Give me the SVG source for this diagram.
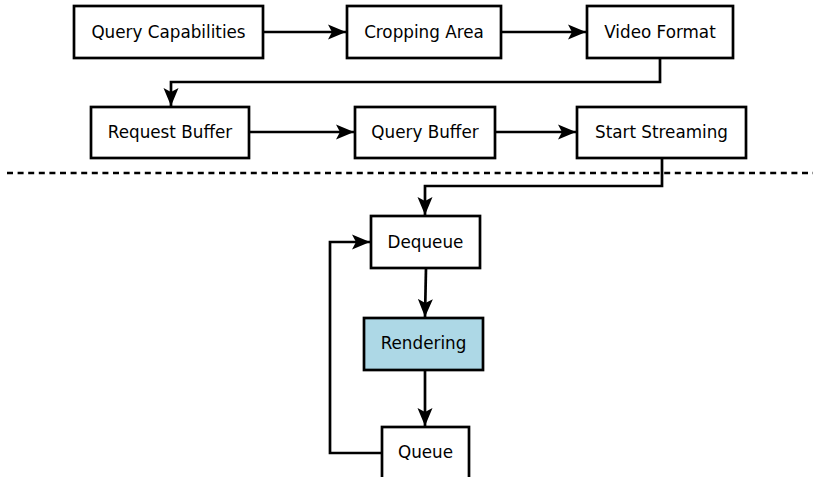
<svg xmlns="http://www.w3.org/2000/svg" width="815" height="477" viewBox="0 0 815 477">
<style>
.box{fill:#fff;stroke:#000;stroke-width:2.7}
.hl{fill:#add8e6}
text{font-family:"DejaVu Sans",sans-serif;font-size:16.8px;text-anchor:middle;dominant-baseline:central;fill:#000}
.c{fill:none;stroke:#000;stroke-width:2.7}
</style>
<defs>
<marker id="ah" markerUnits="userSpaceOnUse" markerWidth="20" markerHeight="18" refX="18" refY="8" orient="auto" viewBox="0 0 20 16">
<path d="M0,0.5 L18,8 L0,15.5 L4,8 z" fill="#000"/>
</marker>
</defs>
<g id="connectors">
<path class="c" d="M263,32 H346" marker-end="url(#ah)"/>
<path class="c" d="M501,32 H586" marker-end="url(#ah)"/>
<path class="c" d="M660,58 V82 H171 V106" marker-end="url(#ah)"/>
<path class="c" d="M249,132 H354" marker-end="url(#ah)"/>
<path class="c" d="M495,132 H576" marker-end="url(#ah)"/>
<path class="c" d="M662,158 V186 H425 V215" marker-end="url(#ah)"/>
<path class="c" d="M426,268 L425,317" marker-end="url(#ah)"/>
<path class="c" d="M425,370 L425,426" marker-end="url(#ah)"/>
<path class="c" d="M382,453 H330 V242 H370" marker-end="url(#ah)"/>
</g>
<line x1="7" y1="173" x2="813" y2="173" stroke="#000" stroke-width="2.7" stroke-dasharray="6,4.6"/>
<g id="n-query-capabilities"><rect class="box" x="74" y="6" width="189" height="52"/><text x="168.5" y="32">Query Capabilities</text></g>
<g id="n-cropping-area"><rect class="box" x="347" y="6" width="154" height="52"/><text x="424" y="32">Cropping Area</text></g>
<g id="n-video-format"><rect class="box" x="587" y="6" width="146" height="52"/><text x="660" y="32">Video Format</text></g>
<g id="n-request-buffer"><rect class="box" x="91" y="107" width="158" height="51"/><text x="170" y="132">Request Buffer</text></g>
<g id="n-query-buffer"><rect class="box" x="355" y="107" width="140" height="51"/><text x="425" y="132">Query Buffer</text></g>
<g id="n-start-streaming"><rect class="box" x="577" y="107" width="169" height="51"/><text x="661.5" y="132">Start Streaming</text></g>
<g id="n-dequeue"><rect class="box" x="371" y="216" width="109" height="52"/><text x="425.5" y="242">Dequeue</text></g>
<g id="n-rendering"><rect class="box hl" x="364" y="318" width="119" height="52"/><text x="423.5" y="343">Rendering</text></g>
<g id="n-queue"><rect class="box" x="382" y="427" width="87" height="52"/><text x="425.5" y="452">Queue</text></g>
</svg>
